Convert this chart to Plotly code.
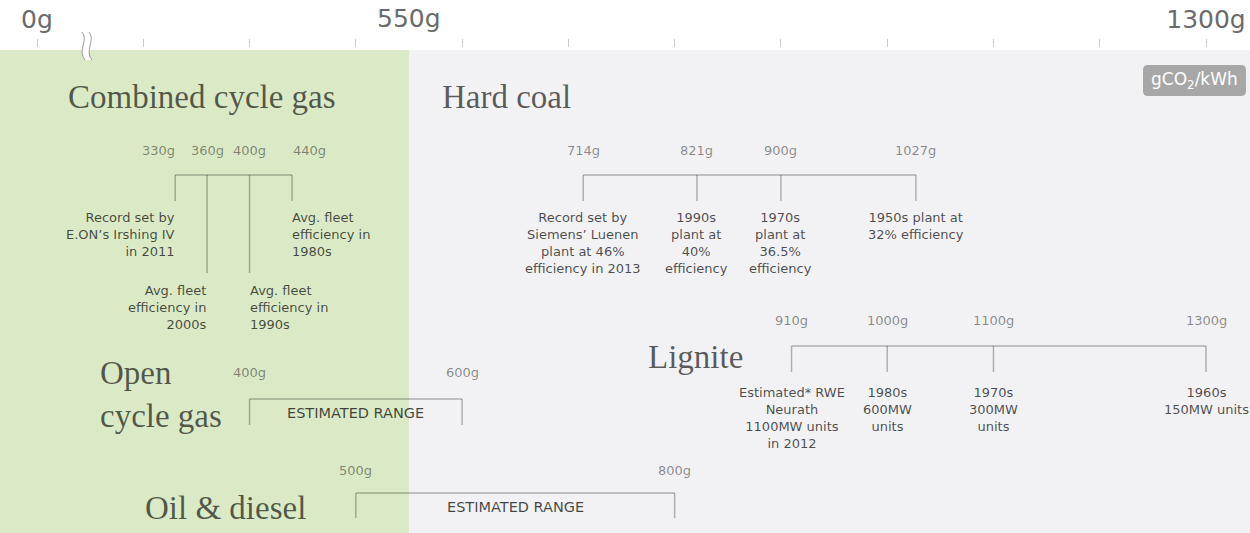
import plotly.graph_objects as go

# ---------------- data ----------------
axis_label_values = [200, 1300]
axis_label_text = ["0g", "1300g"]
axis_minor_values = list(range(300, 1201, 100))
threshold_value = 550
threshold_label = "550g"

ccg_values = [330, 360, 400, 440]
ccg_notes = [
    "Record set by<br>E.ON’s Irshing IV<br>in 2011",
    "Avg. fleet<br>efficiency in<br>2000s",
    "Avg. fleet<br>efficiency in<br>1990s",
    "Avg. fleet<br>efficiency in<br>1980s",
]

coal_values = [714, 821, 900, 1027]
coal_notes = [
    "Record set by<br>Siemens’ Luenen<br>plant at 46%<br>efficiency in 2013",
    "1990s<br>plant at<br>40%<br>efficiency",
    "1970s<br>plant at<br>36.5%<br>efficiency",
    "1950s plant at<br>32% efficiency",
]

lignite_values = [910, 1000, 1100, 1300]
lignite_notes = [
    "Estimated* RWE<br>Neurath<br>1100MW units<br>in 2012",
    "1980s<br>600MW<br>units",
    "1970s<br>300MW<br>units",
    "1960s<br>150MW units",
]

ocg_range = [400, 600]
oil_range = [500, 800]
range_note = "ESTIMATED RANGE"
unit_label = "gCO<sub>2</sub>/kWh"

titles = ["Combined cycle gas", "Hard coal", "Lignite", "Open<br>cycle gas", "Oil &amp; diesel"]

# ---------------- layout helpers ----------------
W, H = 1250, 533
TOP = 48
X_MIN, X_MAX = 165.18, 1341.4

GREEN = "#dbeac6"
GREY = "#f2f2f4"
LINE = "rgba(0,0,0,0.28)"
VAL = "rgba(0,0,0,0.45)"
NOTE = "rgba(0,0,0,0.70)"
TITLE = "rgba(0,0,0,0.64)"
SANS = "DejaVu Sans"
SERIF = "Liberation Serif"


def xp(px):
    return px / W


def yp(py):
    return (H - py) / (H - TOP)


def P(px, py):
    return f"{xp(px):.5f},{yp(py):.5f}"


fig = go.Figure()


def bracket(values, ybar, ydrops):
    xs, ys = [values[0], values[-1], None], [ybar, ybar, None]
    for v, yd in zip(values, ydrops):
        xs += [v, v, None]
        ys += [ybar, yd, None]
    fig.add_trace(go.Scatter(x=xs, y=ys, mode="lines",
                             line=dict(color=LINE, width=1.5),
                             hoverinfo="skip", showlegend=False))


ann = []


def value_labels(values, y, shifts=None):
    shifts = shifts or [0] * len(values)
    for v, s in zip(values, shifts):
        ann.append(dict(x=v, y=y, xref="x", yref="y", text=f"{v}g", showarrow=False,
                        font=dict(family=SANS, size=13, color=VAL),
                        xanchor="center", yanchor="middle", xshift=s))


def note(x, y, text, xanchor="center", align="center", xshift=0, size=13, color=NOTE, yanchor="top"):
    ann.append(dict(x=x, y=y, xref="x", yref="y", text=text, showarrow=False,
                    font=dict(family=SANS, size=size, color=color),
                    xanchor=xanchor, yanchor=yanchor, align=align, xshift=xshift))


def title(px, py, text):
    ann.append(dict(x=xp(px), y=py, xref="paper", yref="y", text=text, showarrow=False,
                    font=dict(family=SERIF, size=33, color=TITLE),
                    xanchor="left", yanchor="middle", align="left"))


# ---------------- combined cycle gas ----------------
value_labels(ccg_values, 150, shifts=[-17, 0, 0, 17])
bracket(ccg_values, 175, [201, 273, 273, 201])
note(ccg_values[0], 208, ccg_notes[0], xanchor="right", align="right", xshift=2)
note(ccg_values[1], 281, ccg_notes[1], xanchor="right", align="right", xshift=2)
note(ccg_values[2], 281, ccg_notes[2], xanchor="left", align="left", xshift=-2)
note(ccg_values[3], 208, ccg_notes[3], xanchor="left", align="left", xshift=-2)

# ---------------- hard coal ----------------
value_labels(coal_values, 150)
bracket(coal_values, 175, [201] * 4)
for v, t in zip(coal_values, coal_notes):
    note(v, 208, t)

# ---------------- lignite ----------------
value_labels(lignite_values, 320)
bracket(lignite_values, 346, [372] * 4)
for v, t in zip(lignite_values, lignite_notes):
    note(v, 383, t)

# ---------------- open cycle gas ----------------
value_labels(ocg_range, 372)
bracket(ocg_range, 399, [425, 425])
note(sum(ocg_range) / 2, 413, range_note, size=14.5, yanchor="middle", color="rgba(0,0,0,0.72)")

# ---------------- oil & diesel ----------------
value_labels(oil_range, 470)
bracket(oil_range, 493, [518, 518])
note(sum(oil_range) / 2, 507, range_note, size=14.5, yanchor="middle", color="rgba(0,0,0,0.72)")

# ---------------- titles ----------------
title(66, 97, titles[0])
title(440, 97, titles[1])
title(646, 357, titles[2])
title(98, 394, titles[3])
title(143, 508, titles[4])

# axis label at the threshold (no tick there)
ann.append(dict(x=threshold_value, y=yp(18), xref="x", yref="paper", text=threshold_label,
                showarrow=False, font=dict(family=SANS, size=25, color="#6b6b6b"),
                xanchor="center", yanchor="middle"))

# unit badge
ann.append(dict(x=xp(1194), y=80, xref="paper", yref="y", text=unit_label, showarrow=False,
                font=dict(family=SANS, size=17, color="white"),
                xanchor="center", yanchor="middle"))

shapes = [
    dict(type="rect", xref="x", yref="y", x0=X_MIN, x1=threshold_value, y0=50, y1=H,
         fillcolor=GREEN, line=dict(width=0), layer="below"),
    dict(type="rect", xref="x", yref="y", x0=threshold_value, x1=X_MAX, y0=50, y1=H,
         fillcolor=GREY, line=dict(width=0), layer="below"),
]

# rounded badge
x0, x1, y0, y1, r = 1143, 1246, 65, 96, 5
badge = (f"M {P(x0 + r, y0)} L {P(x1 - r, y0)} Q {P(x1, y0)} {P(x1, y0 + r)} "
         f"L {P(x1, y1 - r)} Q {P(x1, y1)} {P(x1 - r, y1)} L {P(x0 + r, y1)} "
         f"Q {P(x0, y1)} {P(x0, y1 - r)} L {P(x0, y0 + r)} Q {P(x0, y0)} {P(x0 + r, y0)} Z")
shapes.append(dict(type="path", xref="paper", yref="paper", path=badge,
                   fillcolor="#a7a7a7", line=dict(width=0), layer="above"))

# axis break mark
a, b = 82, 89
band = (f"M {P(a, 32)} C {P(a + 7, 40)} {P(a - 5, 50)} {P(a + 3, 60)} "
        f"L {P(b + 3, 60)} C {P(b - 5, 50)} {P(b + 7, 40)} {P(b, 32)} Z")
shapes.append(dict(type="path", xref="paper", yref="paper", path=band,
                   fillcolor="white", line=dict(width=0), layer="above"))
for c in (a, b):
    shapes.append(dict(type="path", xref="paper", yref="paper",
                       path=f"M {P(c, 32)} C {P(c + 7, 40)} {P(c - 5, 50)} {P(c + 3, 60)}",
                       line=dict(color="#9a9a9a", width=1), layer="above"))

fig.update_layout(
    width=W, height=H,
    margin=dict(l=0, r=0, t=TOP, b=0),
    paper_bgcolor="white", plot_bgcolor="white",
    showlegend=False,
    annotations=ann, shapes=shapes,
    xaxis=dict(range=[X_MIN, X_MAX], side="top", showgrid=False, zeroline=False, showline=False,
               tickmode="array", tickvals=axis_label_values, ticktext=axis_label_text,
               ticks="outside", ticklen=8, tickwidth=1, tickcolor="#c9c9c9",
               minor=dict(tickmode="array", tickvals=axis_minor_values, ticks="outside",
                          ticklen=8, tickwidth=1, tickcolor="#c9c9c9", showgrid=False),
               tickfont=dict(family=SANS, size=25, color="#6b6b6b"), ticklabelstandoff=1,
               fixedrange=True),
    yaxis=dict(range=[H, TOP], visible=False, fixedrange=True),
    hovermode=False,
)

fig.write_html("out.html", config={"displayModeBar": False},
               post_script="document.body.style.margin='0';document.body.style.overflow='hidden';")
